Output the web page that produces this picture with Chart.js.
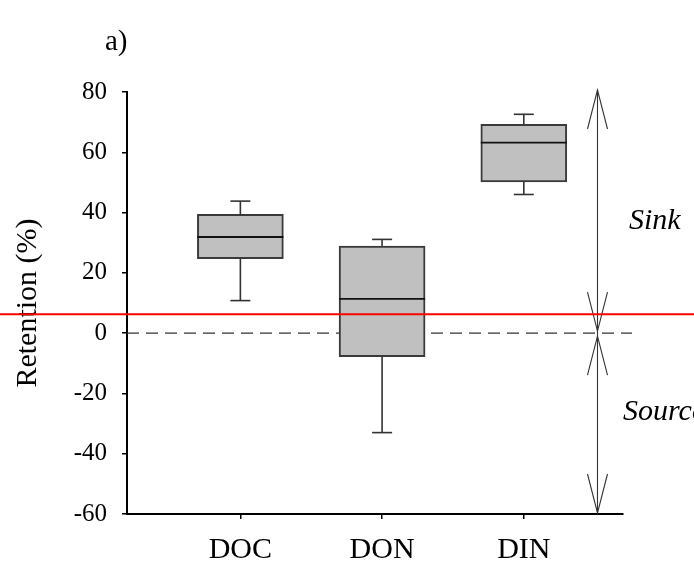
<!DOCTYPE html>
<html>
<head>
<meta charset="utf-8">
<script src="https://cdn.jsdelivr.net/npm/chart.js@4.4.1/dist/chart.umd.min.js"></script>
<style>
  html, body { margin: 0; padding: 0; background: #fff; }
  #wrap { width: 694px; height: 573px; }
</style>
</head>
<body>
<div id="wrap"><canvas id="chart"></canvas></div>
<script>
/* ── Data ───────────────────────────────────────────────────── */
const categories = ['DOC', 'DON', 'DIN'];
const whiskerLow = [10.8, -33.0, 46.0];
const quartile1  = [24.7, -7.8, 50.2];
const medians    = [31.9, 11.4, 63.2];
const quartile3  = [39.4, 28.9, 69.3];
const whiskerHigh = [43.8, 31.1, 72.6];
const yTicks = [-60, -40, -20, 0, 20, 40, 60, 80];
const refLine = 6.3;      // red horizontal line
const arrowX = 3.52;      // sink / source arrows (x units)

const SERIF = "'Liberation Serif', 'Times New Roman', serif";

/* ── Extras: whiskers, medians, zero line, arrows, labels ───── */
const boxExtras = {
  id: 'boxExtras',
  beforeDatasetsDraw(chart) {
    const { ctx, scales: { x, y } } = chart;
    const y0 = y.getPixelForValue(0);
    ctx.save();
    ctx.strokeStyle = '#333';
    ctx.lineWidth = 1.2;
    ctx.setLineDash([12, 7]);
    ctx.beginPath();
    ctx.moveTo(x.left, y0);
    ctx.lineTo(x.right + 9, y0);
    ctx.stroke();
    ctx.restore();
  },
  afterDatasetsDraw(chart) {
    const { ctx, scales: { x, y } } = chart;
    const half = 43, cap = 10;
    ctx.save();
    ctx.strokeStyle = '#333';
    ctx.lineWidth = 1.6;
    categories.forEach((c, i) => {
      const px = x.getPixelForValue(i + 1);
      const seg = (a, b, c2, d) => { ctx.beginPath(); ctx.moveTo(a, b); ctx.lineTo(c2, d); ctx.stroke(); };
      // whiskers
      seg(px, y.getPixelForValue(quartile3[i]), px, y.getPixelForValue(whiskerHigh[i]));
      seg(px - cap, y.getPixelForValue(whiskerHigh[i]), px + cap, y.getPixelForValue(whiskerHigh[i]));
      seg(px, y.getPixelForValue(quartile1[i]), px, y.getPixelForValue(whiskerLow[i]));
      seg(px - cap, y.getPixelForValue(whiskerLow[i]), px + cap, y.getPixelForValue(whiskerLow[i]));
      // median
      ctx.strokeStyle = '#111';
      ctx.lineWidth = 1.8;
      seg(px - half, y.getPixelForValue(medians[i]), px + half, y.getPixelForValue(medians[i]));
      ctx.strokeStyle = '#333';
      ctx.lineWidth = 1.6;
    });
    ctx.restore();
  },
  afterDraw(chart) {
    const { ctx, scales: { x, y } } = chart;
    const ax = x.getPixelForValue(arrowX);
    const yTop = y.getPixelForValue(80) - 2;
    const yZero = y.getPixelForValue(0);
    const yBot = y.getPixelForValue(-60) - 1;
    ctx.save();
    ctx.strokeStyle = '#333';
    ctx.lineWidth = 1.1;
    ctx.beginPath();
    ctx.moveTo(ax, yTop);
    ctx.lineTo(ax, yBot);
    ctx.stroke();
    // open arrow heads: apex y, direction (-1 up, +1 down)
    const head = (apex, dir) => {
      ctx.beginPath();
      ctx.moveTo(ax - 10, apex - dir * 39);
      ctx.lineTo(ax, apex);
      ctx.lineTo(ax + 10, apex - dir * 39);
      ctx.stroke();
    };
    head(yTop, -1);
    head(yZero - 2, 1);
    head(yZero + 3, -1);
    head(yBot, 1);

    // red reference line across the whole figure
    const yr = y.getPixelForValue(refLine);
    ctx.strokeStyle = '#ff0000';
    ctx.lineWidth = 2;
    ctx.beginPath();
    ctx.moveTo(0, yr);
    ctx.lineTo(chart.width, yr);
    ctx.stroke();

    // texts
    ctx.fillStyle = '#000';
    ctx.textBaseline = 'alphabetic';
    ctx.textAlign = 'left';
    ctx.font = '29px ' + SERIF;
    ctx.fillText('a)', 105, 50);
    ctx.font = 'italic 30px ' + SERIF;
    ctx.fillText('Sink', 629, 229);
    ctx.fillText('Source', 623, 420);
    ctx.restore();
  }
};

/* ── Chart ──────────────────────────────────────────────────── */
const boxData = categories.map((c, i) => ({ x: i + 1, y: [quartile1[i], quartile3[i]] }));

new Chart(document.getElementById('chart'), {
  type: 'bar',
  data: {
    datasets: [{
      label: 'Retention',
      data: boxData,
      backgroundColor: '#c0c0c0',
      borderColor: '#3a3a3a',
      borderWidth: 2,
      borderSkipped: false,
      barThickness: 86,
    }]
  },
  options: {
    responsive: true,
    maintainAspectRatio: false,
    animation: false,
    layout: { padding: { top: 92, right: 71, left: 0, bottom: 0 } },
    plugins: {
      legend: { display: false },
      tooltip: { enabled: false },
    },
    scales: {
      x: {
        type: 'linear',
        min: 0.2,
        max: 3.7,
        offset: false,
        afterBuildTicks: axis => { axis.ticks = categories.map((c, i) => ({ value: i + 1 })); },
        afterFit: axis => { axis.height = 59; },
        grid: { offset: false, drawOnChartArea: false, drawTicks: true, tickLength: 5, color: '#000', lineWidth: 1.5 },
        border: { display: true, color: '#000', width: 2 },
        ticks: {
          color: '#000',
          padding: 13,
          font: { family: SERIF, size: 30 },
          callback: v => categories[v - 1] ?? '',
        }
      },
      y: {
        min: -60,
        max: 80,
        afterBuildTicks: axis => { axis.ticks = yTicks.map(v => ({ value: v })); },
        afterFit: axis => { axis.width = 127; },
        grid: { drawOnChartArea: false, drawTicks: true, tickLength: 5, color: '#000', lineWidth: 1.5 },
        border: { display: true, color: '#000', width: 2 },
        ticks: {
          color: '#000',
          padding: 15,
          font: { family: SERIF, size: 25 },
        },
        title: {
          display: true,
          text: 'Retention (%)',
          color: '#000',
          font: { family: SERIF, size: 30 },
          padding: { top: 10, bottom: 0 },
        }
      }
    }
  },
  plugins: [boxExtras]
});
</script>
</body>
</html>
